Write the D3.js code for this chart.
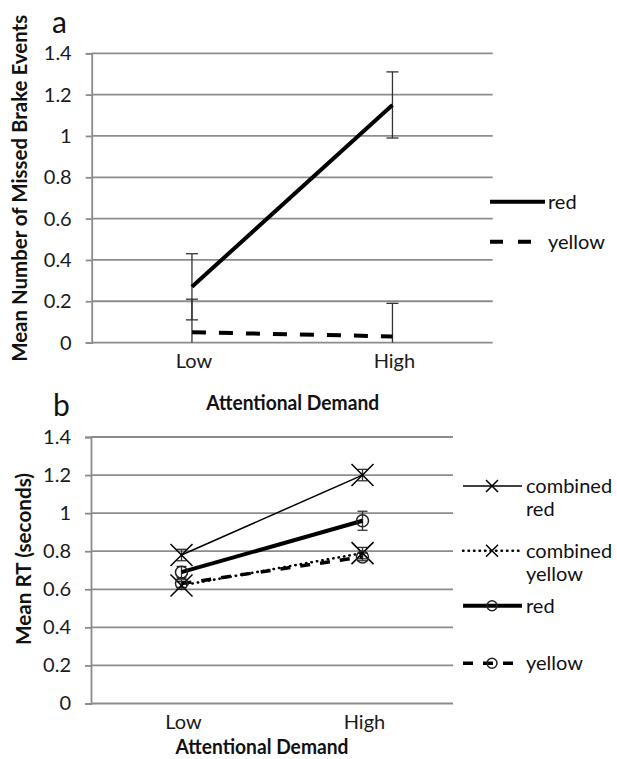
<!DOCTYPE html>
<html><head><meta charset="utf-8">
<script src="https://cdn.jsdelivr.net/npm/d3@7"></script>
<style>body{margin:0;background:#fff} svg{display:block}</style>
</head><body><svg id="c" width="617" height="759"></svg>
<script>
// ---- data ----
const categories = ["Low", "High"];
const yTicks = [0, 0.2, 0.4, 0.6, 0.8, 1, 1.2, 1.4];
const yTickLabels = ["0", "0.2", "0.4", "0.6", "0.8", "1", "1.2", "1.4"];
// panel a: mean number of missed brake events
const missedRed = [0.27, 1.15];
const missedRedErr = [0.16, 0.16];
const missedYellow = [0.05, 0.03];
const missedYellowErr = [0.16, 0.16];
// panel b: mean RT (seconds)
const rtCombinedRed = [0.78, 1.20];
const rtCombinedRedErr = [0.03, 0.03];
const rtCombinedYellow = [0.62, 0.79];
const rtCombinedYellowErr = [0.02, 0.03];
const rtRed = [0.69, 0.96];
const rtRedErr = [0.03, 0.05];
const rtYellow = [0.63, 0.77];
const rtYellowErr = [0.02, 0.02];

const FONT = "Lato, 'Open Sans', sans-serif";
const GRID = "#8c8c8c";
const TXT = 20;
const svg = d3.select("#c");
svg.append("rect").attr("width", 617).attr("height", 759).attr("fill", "#fff");

function panel(o) {
  const x = d3.scaleBand().domain(categories).range([o.left, o.right]);
  const y = d3.scaleLinear().domain([0, 1.4]).range([o.bottom, o.top]);
  const cx = c => x(c) + x.bandwidth() / 2;
  const g = svg.append("g");
  g.selectAll("line.grid").data(yTicks).join("line").attr("class", "grid")
    .attr("x1", o.left).attr("x2", o.right)
    .attr("y1", d => y(d)).attr("y2", d => y(d))
    .attr("stroke", GRID).attr("stroke-width", 1.8);
  const ax = g.append("g").attr("transform", `translate(${o.left},0)`)
    .call(d3.axisLeft(y).tickValues(yTicks).tickFormat((d, i) => yTickLabels[i]).tickSize(6).tickPadding(14));
  ax.select(".domain").attr("stroke", GRID).attr("stroke-width", 1.8);
  ax.selectAll(".tick line").attr("stroke", GRID).attr("stroke-width", 1.8);
  ax.selectAll(".tick text").attr("font-family", FONT).attr("font-size", TXT).attr("fill", "#1a1a1a");
  g.selectAll("text.cat").data(categories).join("text").attr("class", "cat")
    .attr("x", d => cx(d) + 2).attr("y", o.bottom + 18).attr("dy", "0.35em")
    .attr("text-anchor", "middle").attr("font-family", FONT).attr("font-size", TXT).attr("fill", "#1a1a1a")
    .text(d => d);
  // error bars
  o.series.forEach(s => {
    const eg = g.append("g").attr("stroke", "#333").attr("stroke-width", 1.3);
    s.values.forEach((v, i) => {
      const c = cx(categories[i]);
      const hi = v + s.err[i], lo = Math.max(0, v - s.err[i]);
      eg.append("line").attr("x1", c).attr("x2", c).attr("y1", y(hi)).attr("y2", y(lo));
      eg.append("line").attr("x1", c - o.cap).attr("x2", c + o.cap).attr("y1", y(hi)).attr("y2", y(hi));
      if (v - s.err[i] > 0)
        eg.append("line").attr("x1", c - o.cap).attr("x2", c + o.cap).attr("y1", y(lo)).attr("y2", y(lo));
    });
  });
  // lines
  const line = d3.line().x((d, i) => cx(categories[i])).y(d => y(d));
  o.series.forEach(s => {
    g.append("path").datum(s.values).attr("d", line).attr("fill", "none")
      .attr("stroke", "#000").attr("stroke-width", s.width)
      .attr("stroke-dasharray", s.dash || null).attr("stroke-linecap", s.cap || "butt");
  });
  // markers
  o.series.forEach(s => {
    s.values.forEach((v, i) => drawMarker(g, s.marker, cx(categories[i]), y(v), s.msize));
  });
  return { x, y };
}

function drawMarker(g, type, px, py, size) {
  if (type === "x") {
    g.append("path").attr("d", `M${px - size},${py - size}L${px + size},${py + size}M${px - size},${py + size}L${px + size},${py - size}`)
      .attr("stroke", "#000").attr("stroke-width", 1.5).attr("fill", "none");
  } else if (type === "circle") {
    g.append("circle").attr("cx", px).attr("cy", py).attr("r", size)
      .attr("stroke", "#222").attr("stroke-width", 1.5).attr("fill", "none");
  }
}

function label(txt, xx, yy, size, weight, anchor, len, rot) {
  const t = svg.append("text").attr("font-family", FONT).attr("font-size", size)
    .attr("font-weight", weight).attr("fill", "#111").attr("text-anchor", anchor).text(txt);
  if (len) t.attr("textLength", len).attr("lengthAdjust", "spacingAndGlyphs");
  if (rot) t.attr("transform", `translate(${xx},${yy}) rotate(-90)`);
  else t.attr("x", xx).attr("y", yy);
  return t;
}

// ---- panel a ----
panel({
  left: 91.7, right: 492.7, top: 53.3, bottom: 342.6, cap: 6,
  series: [
    { values: missedRed, err: missedRedErr, width: 4, marker: null },
    { values: missedYellow, err: missedYellowErr, width: 4, dash: "14,13", marker: null }
  ]
});
label("a", 52, 33, 30, "normal", "start");
label("Mean Number of Missed Brake Events", 27, 188.3, 20, "bold", "middle", 347, true);
label("Attentional Demand", 292.7, 410, 20, "bold", "middle", 173);
// legend a
svg.append("line").attr("x1", 490).attr("x2", 545).attr("y1", 201.7).attr("y2", 201.7).attr("stroke", "#000").attr("stroke-width", 4);
svg.append("line").attr("x1", 490).attr("x2", 545).attr("y1", 241.7).attr("y2", 241.7).attr("stroke", "#000").attr("stroke-width", 4).attr("stroke-dasharray", "13,15");
label("red", 548, 201.7 + 7, TXT, "normal", "start");
label("yellow", 548, 241.7 + 7, TXT, "normal", "start");

// ---- panel b ----
const bSeries = [
  { values: rtCombinedRed, err: rtCombinedRedErr, width: 1.5, marker: "x", msize: 11 },
  { values: rtCombinedYellow, err: rtCombinedYellowErr, width: 2.5, dash: "0.5,5", cap: "round", marker: "x", msize: 11 },
  { values: rtRed, err: rtRedErr, width: 4, marker: "circle", msize: 6 },
  { values: rtYellow, err: rtYellowErr, width: 3.5, dash: "10,10", marker: "circle", msize: 6 }
];
panel({ left: 91, right: 453, top: 437, bottom: 703.5, cap: 5, series: bSeries });
label("b", 53, 416, 30, "normal", "start");
label("Mean RT (seconds)", 31, 559, 20, "bold", "middle", 172, true);
label("Attentional Demand", 262, 754, 20, "bold", "middle", 173);
// legend b
const legB = [
  { s: bSeries[0], y: 486, lines: ["combined", "red"] },
  { s: bSeries[1], y: 550.7, lines: ["combined", "yellow"] },
  { s: bSeries[2], y: 605.7, lines: ["red"] },
  { s: bSeries[3], y: 663.3, lines: ["yellow"] }
];
legB.forEach(l => {
  svg.append("line").attr("x1", 463).attr("x2", 522).attr("y1", l.y).attr("y2", l.y)
    .attr("stroke", "#000").attr("stroke-width", l.s.width)
    .attr("stroke-dasharray", l.s.dash || null).attr("stroke-linecap", l.s.cap || "butt");
  drawMarker(svg, l.s.marker, 492, l.y, l.s.marker === "x" ? 6 : 5);
  l.lines.forEach((t, i) => label(t, 526, l.y + 7 + i * 23, TXT, "normal", "start"));
});
</script>
</body></html>
